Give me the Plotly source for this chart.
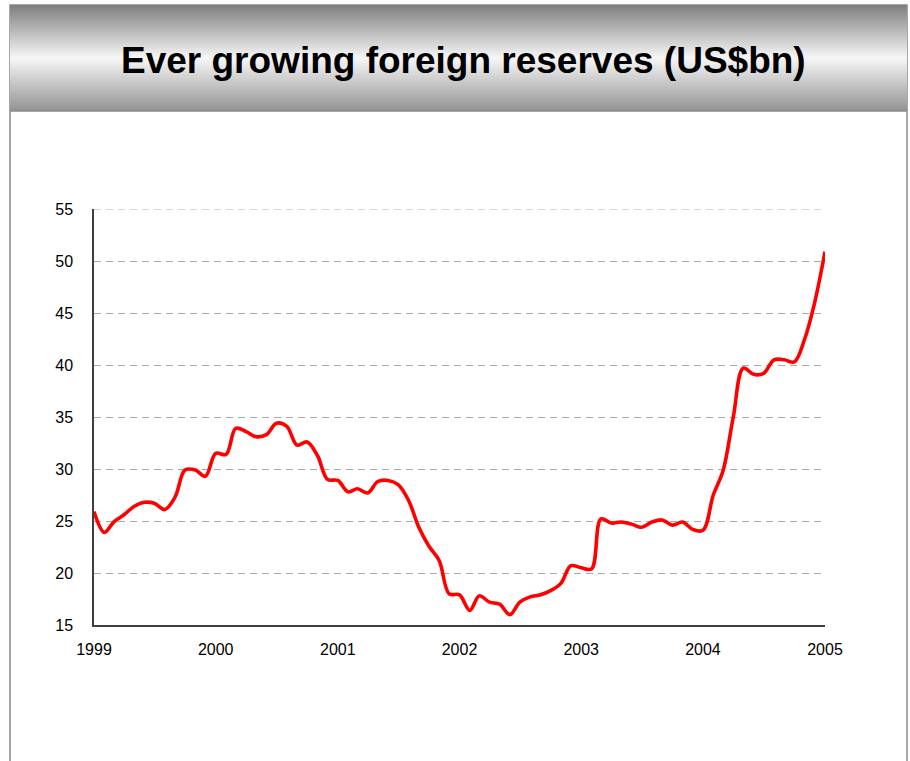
import plotly.graph_objects as go

# Monthly foreign reserves, US$bn, Jan 1999 - Jan 2005
months = [f"{y}-{m:02d}-01" for y in range(1999, 2005) for m in range(1, 13)] + ["2005-01-01"]

reserves_1999 = [25.9, 23.9, 24.9, 25.6, 26.4, 26.8, 26.7, 26.1, 27.3, 29.9, 29.9, 29.3]
reserves_2000 = [31.5, 31.4, 33.9, 33.6, 33.1, 33.3, 34.4, 34.1, 32.3, 32.6, 31.3, 29.0]
reserves_2001 = [28.9, 27.8, 28.1, 27.7, 28.8, 28.9, 28.5, 27.0, 24.4, 22.6, 21.2, 18.0]
reserves_2002 = [17.9, 16.4, 17.8, 17.2, 17.0, 16.0, 17.2, 17.7, 17.9, 18.3, 19.0, 20.7]
reserves_2003 = [20.5, 20.4, 25.2, 24.8, 24.9, 24.7, 24.4, 24.9, 25.1, 24.6, 24.9, 24.2]
reserves_2004 = [24.1, 27.5, 29.8, 35.0, 39.7, 39.1, 39.2, 40.5, 40.5, 40.3, 42.5, 46.0]
reserves_2005 = [50.9]

reserves = (reserves_1999 + reserves_2000 + reserves_2001 + reserves_2002
            + reserves_2003 + reserves_2004 + reserves_2005)

year_ticks = [f"{y}-01-01" for y in range(1999, 2006)]
year_labels = [str(y) for y in range(1999, 2006)]
y_ticks = [15, 20, 25, 30, 35, 40, 45, 50, 55]
y_min, y_max = 15, 55

title_text = "Ever growing foreign reserves (US$bn)"

W, H = 910, 761
L, R, T, B = 94, 825, 209, 625  # plot area in pixels
GRID_DASH = "7px,5px"


def px_x(p):
    return (p - L) / (R - L)


def px_y(p):
    return (B - p) / (B - T)


fig = go.Figure()
fig.add_trace(go.Scatter(
    x=months, y=reserves, mode="lines",
    line=dict(color="#ff0000", width=3.6, shape="spline", smoothing=1.0),
    hoverinfo="x+y", showlegend=False,
))

shapes = []

# outer panel frame
shapes.append(dict(type="rect", xref="paper", yref="paper",
                   x0=px_x(10), x1=px_x(907), y0=px_y(775), y1=px_y(5),
                   line=dict(color="#8a8a8a", width=1.5), fillcolor="rgba(0,0,0,0)",
                   layer="below"))

# gradient title banner built from thin horizontal strips
top, bottom = 5, 111
n = bottom - top
for i in range(n):
    t = i / (n - 1)
    if t < 0.5:
        v = 128 + (246 - 128) * (t / 0.5)
    else:
        v = 246 + (148 - 246) * ((t - 0.5) / 0.5)
    c = int(round(v))
    shapes.append(dict(type="rect", xref="paper", yref="paper",
                       x0=px_x(10), x1=px_x(907),
                       y0=px_y(top + i + 1), y1=px_y(top + i),
                       line=dict(width=0), fillcolor=f"rgb({c},{c},{c})",
                       layer="below"))
shapes.append(dict(type="line", xref="paper", yref="paper",
                   x0=px_x(10), x1=px_x(907), y0=px_y(111), y1=px_y(111),
                   line=dict(color="#8a8a8a", width=1.5)))

# dashed gridline at the top of the value range
shapes.append(dict(type="line", xref="paper", yref="y",
                   x0=0, x1=1, y0=y_max, y1=y_max,
                   line=dict(color="#aaaaaa", width=1, dash=GRID_DASH),
                   layer="below"))

fig.update_layout(
    width=W, height=H,
    margin=dict(l=L, r=W - R, t=T, b=H - B, pad=0),
    paper_bgcolor="white", plot_bgcolor="white",
    font=dict(family="Liberation Sans, Arial, sans-serif", color="black", size=16),
    shapes=shapes,
    annotations=[dict(
        text=f"<b>{title_text}</b>", xref="paper", yref="paper",
        x=px_x(463), y=px_y(60), xanchor="center", yanchor="middle",
        showarrow=False, font=dict(size=37, color="black",
                                   family="Liberation Sans, Arial, sans-serif"),
    )],
    xaxis=dict(
        type="date", range=["1999-01-01", "2005-01-01"],
        tickvals=year_ticks, ticktext=year_labels,
        showgrid=False, zeroline=False,
        showline=True, linecolor="#404040", linewidth=1.5,
        ticks="", ticklabelstandoff=9,
        tickfont=dict(size=16),
    ),
    yaxis=dict(
        range=[y_min, y_max], tickvals=y_ticks,
        showgrid=True, gridcolor="#aaaaaa", griddash=GRID_DASH, gridwidth=1,
        zeroline=False,
        showline=True, linecolor="#404040", linewidth=1.5,
        ticks="", ticklabelstandoff=16,
        tickfont=dict(size=16),
    ),
)

fig.write_html("out.html")
